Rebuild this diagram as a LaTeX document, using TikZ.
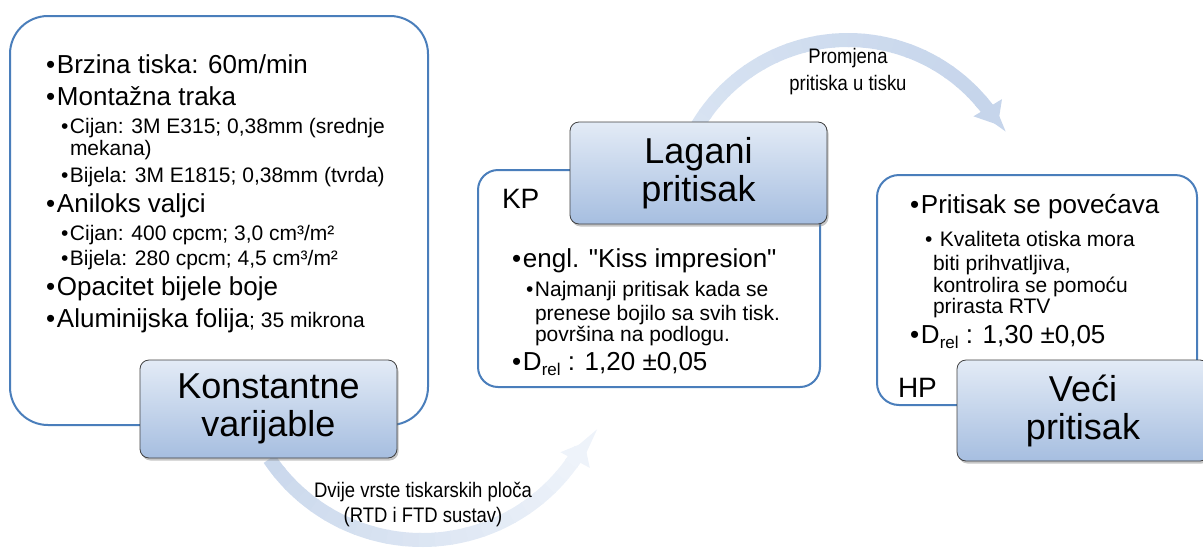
\documentclass[tikz,border=0pt]{standalone}
\usepackage{fontspec}
\setmainfont{Liberation Sans}[Ligatures=TeXOff]
\newfontfamily\narrowfont[FakeStretch=0.88]{Liberation Sans}
\usetikzlibrary{arrows.meta,shadows}

\definecolor{outline}{HTML}{4A7EBB}
\definecolor{boxtop}{HTML}{E3EBF6}
\definecolor{boxbot}{HTML}{A6BEE0}
\definecolor{boxline}{HTML}{404040}
\definecolor{arrA}{HTML}{CAD8EC}
\definecolor{arrB}{HTML}{EEF3FA}
\definecolor{arrC}{HTML}{D8E3F2}
\definecolor{arrD}{HTML}{C6D5EB}

\newcommand{\mainfs}{\fontsize{26}{30}\selectfont}
\newcommand{\subfs}{\fontsize{21}{24}\selectfont}
\newcommand{\mbul}{\makebox[11pt][l]{•}}
\newcommand{\sbul}{\makebox[9pt][l]{•}}
\newcommand{\drel}{D\raisebox{-5pt}{\fontsize{17}{17}\selectfont rel}}

\begin{document}
\begin{tikzpicture}[x=1pt,y=1pt,
  every node/.style={inner sep=0pt, outer sep=0pt},
  mainline/.style={anchor=base west, font=\mainfs},
  subline/.style={anchor=base west, font=\subfs},
  tagline/.style={anchor=base west, font=\fontsize{28}{30}\selectfont},
  panel/.style={draw=outline, line width=2pt, fill=white},
  bluebox/.style={draw=boxline, line width=0.8pt, rounded corners=9pt,
    top color=boxtop, bottom color=boxbot, align=center,
    font=\fontsize{36}{38}\selectfont,
    drop shadow={opacity=0.45, shadow xshift=1.5pt, shadow yshift=-2.5pt}},
  arclabel/.style={anchor=base, font=\narrowfont\fontsize{21}{25}\selectfont},
  arcbody/.style={line width=14pt},
]
\useasboundingbox (0,0) rectangle (1203,-547);
\clip (0,0) rectangle (1203,-547);

% ---- bending arrows (behind everything) ----
\coordinate (bc) at (422,-356);
\coordinate (tc) at (848,-215);
\foreach \i in {0,...,22} {
  \pgfmathsetmacro{\a}{214+\i*5}
  \pgfmathtruncatemacro{\p}{100-\i*100/22}
  \draw[arcbody, color=arrA!\p!arrB] ([shift={(\a:184)}]bc) arc[start angle=\a, delta angle=5.5, radius=184];
}
\draw[arcbody, arrB, -{Triangle[width=32pt,length=20pt]}] ([shift={(324:184)}]bc) arc[start angle=324, delta angle=8, radius=184];

\foreach \i in {0,...,21} {
  \pgfmathsetmacro{\a}{150-\i*5}
  \pgfmathtruncatemacro{\p}{100-\i*100/21}
  \draw[arcbody, color=arrC!\p!arrD] ([shift={(\a:175)}]tc) arc[start angle=\a, delta angle=-5.5, radius=175];
}
\draw[arcbody, arrD, -{Triangle[width=32pt,length=20pt]}] ([shift={(41:175)}]tc) arc[start angle=41, delta angle=-10, radius=175];

\node[arclabel] (bl1) at (423,-497) {Dvije vrste tiskarskih ploča};
\node[arclabel] (bl2) at (423,-522) {(RTD i FTD sustav)};
\node[arclabel] (tl1) at (848,-63) {Promjena};
\node[arclabel] (tl2) at (848,-90) {pritiska u tisku};

% ---- panels ----
\node[panel, rounded corners=38pt, minimum width=418, minimum height=409] (p1) at (219,-220.5) {};
\node[panel, rounded corners=20pt, minimum width=342, minimum height=217] (p2) at (649,-278.5) {};
\node[panel, rounded corners=22pt, minimum width=320, minimum height=230] (p3) at (1037,-290) {};

% ---- panel 1 text ----
\node[mainline] (a1) at (46,-73) {\mbul Brzina tiska: 60m/min};
\node[mainline] (a2) at (46,-105) {\mbul Montažna traka};
\node[subline] (a3) at (61,-133) {\sbul Cijan: 3M E315; 0,38mm (srednje};
\node[subline] (a4) at (70,-155) {mekana)};
\node[subline] (a5) at (61,-182) {\sbul Bijela: 3M E1815; 0,38mm (tvrda)};
\node[mainline] (a6) at (46,-212) {\mbul Aniloks valjci};
\node[subline] (a7) at (61,-240) {\sbul Cijan: 400 cpcm; 3,0 cm³/m²};
\node[subline] (a8) at (61,-265) {\sbul Bijela: 280 cpcm; 4,5 cm³/m²};
\node[mainline] (a9) at (46,-295) {\mbul Opacitet bijele boje};
\node[mainline] (a10) at (46,-327) {\mbul Aluminijska folija{\subfs; 35 mikrona}};

% ---- panel 2 text ----
\node[tagline] (kp) at (502,-208) {KP};
\node[mainline] (b1) at (512,-267) {\mbul engl. "Kiss impresion"};
\node[subline] (b2) at (526,-296) {\sbul Najmanji pritisak kada se};
\node[subline] (b3) at (535,-320) {prenese bojilo sa svih tisk.};
\node[subline] (b4) at (535,-341) {površina na podlogu.};
\node[mainline] (b5) at (512,-370) {\mbul \drel\ : 1,20 ±0,05};

% ---- panel 3 text ----
\node[mainline] (c1) at (910,-213) {\mbul Pritisak se povećava};
\node[subline] (c2) at (925,-246) {\sbul\ Kvaliteta otiska mora};
\node[subline] (c3) at (933,-270) {biti prihvatljiva,};
\node[subline] (c4) at (933,-292) {kontrolira se pomoću};
\node[subline] (c5) at (933,-313) {prirasta RTV};
\node[mainline] (c6) at (910,-343) {\mbul \drel\ : 1,30 ±0,05};
\node[tagline] (hp) at (898,-397) {HP};

% ---- blue title boxes ----
\node[bluebox, minimum width=257, minimum height=98] (kv) at (268.5,-409) {Konstantne\\varijable};
\node[bluebox, minimum width=257, minimum height=102] (lp) at (698.5,-173) {Lagani\\pritisak};
\node[bluebox, minimum width=252, minimum height=101] (vp) at (1083,-410.5) {Veći\\pritisak};
\end{tikzpicture}
\end{document}
